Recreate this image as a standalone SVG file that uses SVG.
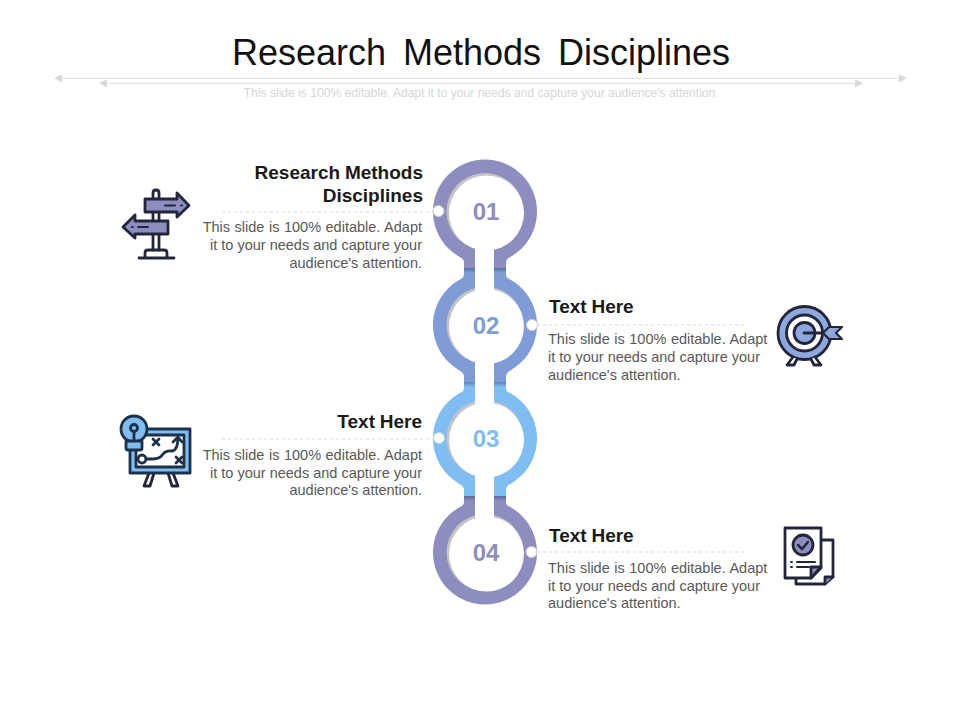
<svg xmlns="http://www.w3.org/2000/svg" width="960" height="720" viewBox="0 0 960 720">
<style>
text{font-family:"Liberation Sans",Arial,sans-serif}
.t{font-size:36px;fill:#111;text-anchor:middle;word-spacing:7px}
.s{font-size:12.100px;fill:#d6d6d6;text-anchor:middle}
.h{font-size:19px;font-weight:700;fill:#1a1a1a;word-spacing:-.5px}
.b{font-size:14.500px;fill:#595959}
.w{word-spacing:.5px}
.e{text-anchor:end}
.n{font-size:24px;font-weight:700;text-anchor:middle}
.d{stroke:#dcdcdc;stroke-width:1;stroke-dasharray:3 3;fill:none}
.g{stroke:#dedede;stroke-width:1;fill:none}
.k{stroke:#23263a;stroke-width:2.800;stroke-linejoin:round;stroke-linecap:round}
.dot{fill:#fff;stroke:#cfcfcf;stroke-width:1}
.face{fill:#fff}
.rim{fill:#c4c4c4}
.slot{fill:#fff}
</style>
<defs>
<marker id="tri" markerWidth="8" markerHeight="8" refX="0" refY="4" orient="auto-start-reverse" markerUnits="userSpaceOnUse"><path d="M0 0L8 4L0 8z" fill="#d9d9d9"/></marker>
<linearGradient id="b2" x1="0" y1="0" x2="0" y2="1"><stop offset="0" stop-color="#58719f"/><stop offset="1" stop-color="#7f9cd6"/></linearGradient>
<linearGradient id="b3" x1="0" y1="0" x2="0" y2="1"><stop offset="0" stop-color="#5a86b8"/><stop offset="1" stop-color="#7fbdf2"/></linearGradient>
<linearGradient id="b4" x1="0" y1="0" x2="0" y2="1"><stop offset="0" stop-color="#5f6a96"/><stop offset="1" stop-color="#8e8dbf"/></linearGradient>
</defs>
<g id="header">
<text class="t" x="481" y="65">Research Methods Disciplines</text>
<path class="g" d="M62 78.300H899" marker-start="url(#tri)" marker-end="url(#tri)"/>
<path class="g" d="M107 83.300H855" marker-start="url(#tri)" marker-end="url(#tri)"/>
<text class="s" x="479.500" y="97">This slide is 100% editable. Adapt it to your needs and capture your audience's attention</text>
</g>
<g id="connectors">
<path class="d" d="M222 212H433"/><path class="d" d="M537 325H745"/><path class="d" d="M222 439H433"/><path class="d" d="M537 552H746"/>
</g>
<g id="node-01">
<circle cx="485" cy="211.500" r="52" fill="#8e8dbf"/>
<path d="M457 255Q464 258 464 263V268H506V263Q506 258 513 255Z" fill="#8e8dbf"/>
<circle cx="485" cy="211.500" r="38.500" class="rim"/>
<circle cx="486.500" cy="213" r="37.500" class="face"/>
<circle cx="438.500" cy="211" r="5.500" class="dot"/>
<text class="n" x="486" y="220" fill="#8e8dbf">01</text>
<text class="h e" x="423" y="179">Research Methods</text>
<text class="h e" x="423" y="202">Disciplines</text>
<text class="b e w" x="422" y="232">This slide is 100% editable. Adapt</text>
<text class="b e" x="422" y="250">it to your needs and capture your</text>
<text class="b e" x="422" y="268">audience's attention.</text>
</g>
<g id="node-02">
<circle cx="485" cy="325" r="52" fill="#7f9cd6"/>
<path d="M457 282Q464 279 464 274V268H506V274Q506 279 513 282Z" fill="#7f9cd6"/>
<rect x="464" y="268" width="42" height="5" fill="url(#b2)"/>
<path d="M457 369Q464 372 464 377V382H506V377Q506 372 513 369Z" fill="#7f9cd6"/>
<circle cx="485" cy="325" r="38.500" class="rim"/>
<circle cx="486.500" cy="326.500" r="37.500" class="face"/>
<rect x="475" y="240" width="19" height="60" class="slot"/>
<circle cx="532" cy="325" r="5.500" class="dot"/>
<text class="n" x="486" y="334" fill="#7f9cd6">02</text>
<text class="h" x="549" y="313">Text Here</text>
<text class="b w" x="548" y="344">This slide is 100% editable. Adapt</text>
<text class="b" x="548" y="362">it to your needs and capture your</text>
<text class="b" x="548" y="380">audience's attention.</text>
</g>
<g id="node-03">
<circle cx="485" cy="438.500" r="52" fill="#7fbdf2"/>
<path d="M457 395.500Q464 392.500 464 388V382H506V388Q506 392.500 513 395.500Z" fill="#7fbdf2"/>
<rect x="464" y="382" width="42" height="5" fill="url(#b3)"/>
<path d="M457 482.500Q464 485.500 464 490V496H506V490Q506 485.500 513 482.500Z" fill="#7fbdf2"/>
<circle cx="485" cy="438.500" r="38.500" class="rim"/>
<circle cx="486.500" cy="440" r="37.500" class="face"/>
<rect x="475" y="352" width="19" height="62" class="slot"/>
<circle cx="439" cy="438" r="5.500" class="dot"/>
<text class="n" x="486" y="447" fill="#7fbdf2">03</text>
<text class="h e" x="422" y="428">Text Here</text>
<text class="b e w" x="422" y="460">This slide is 100% editable. Adapt</text>
<text class="b e" x="422" y="478">it to your needs and capture your</text>
<text class="b e" x="422" y="495">audience's attention.</text>
</g>
<g id="node-04">
<circle cx="485" cy="552.500" r="52" fill="#8e8dbf"/>
<path d="M457 509.500Q464 506.500 464 502V496H506V502Q506 506.500 513 509.500Z" fill="#8e8dbf"/>
<rect x="464" y="496" width="42" height="5" fill="url(#b4)"/>
<circle cx="485" cy="552.500" r="38.500" class="rim"/>
<circle cx="486.500" cy="554" r="37.500" class="face"/>
<rect x="475" y="465" width="19" height="63" class="slot"/>
<circle cx="531.500" cy="552" r="5.500" class="dot"/>
<text class="n" x="486" y="561" fill="#8e8dbf">04</text>
<text class="h" x="549" y="542">Text Here</text>
<text class="b w" x="548" y="573">This slide is 100% editable. Adapt</text>
<text class="b" x="548" y="591">it to your needs and capture your</text>
<text class="b" x="548" y="608">audience's attention.</text>
</g>
<g id="icon-signpost" class="k" fill="none">
<path d="M153 199V193Q153 190 156 190Q159 190 159 193V199M153 212V221M159 212V221M153 234V250M159 234V250"/>
<path d="M145 199H177V193L189 205.500L177 217V212H145Z" fill="#8e8dbf"/>
<path d="M168 221H135V215L123 227L135 238V234H168Z" fill="#8e8dbf"/>
<path d="M139 258H174M145 258V253Q145 250 148 250H164Q167 250 167 253V258"/>
<path d="M165 205.500H175M181 205.500H182M138 227H148M132 227H133" stroke-width="2"/>
</g>
<g id="icon-target" class="k" fill="none">
<circle cx="804.500" cy="333" r="26.500" fill="#8ea7dc"/>
<circle cx="804.500" cy="333" r="18" fill="#fff"/>
<circle cx="804.500" cy="333" r="10.500" fill="#8ea7dc"/>
<path d="M804 333H826"/>
<path d="M823 333L829 327H842L836 333L842 339H829Z" fill="#8ea7dc" stroke-width="2.200"/>
<path d="M793 357L787 365H794L797 359M815 357L821 365H814L811 359" fill="#fff"/>
</g>
<g id="icon-board" class="k" fill="none">
<path d="M149 473L144 486H150L154 473M168 473L172 486H178L173 473"/>
<rect x="130" y="429" width="60" height="44" fill="#7fbdf2" style="stroke:#1d3148"/>
<rect x="136" y="435" width="48" height="32" fill="#fff" style="stroke:#1d3148"/>
<circle cx="134" cy="429" r="13" fill="#7fbdf2" style="stroke:#1d3148"/>
<path d="M126 441H142V448Q142 450 140 450H128Q126 450 126 448Z" fill="#7fbdf2" style="stroke:#1d3148"/>
<circle cx="134" cy="428" r="3.500" style="stroke:#1d3148"/>
<path d="M134 432V441" style="stroke:#1d3148"/>
<path d="M153 439L159 445M159 439L153 445M176 457L182 463M182 457L176 463" style="stroke:#1d3148"/>
<circle cx="142" cy="459" r="4" style="stroke:#1d3148"/>
<path d="M146 459H153Q160 459 163 454Q166 450 172 451Q178 450 178 437M173 442L178 437L182 442" style="stroke:#1d3148"/>
</g>
<g id="icon-doc" class="k" fill="none">
<path d="M796 540H833V577L825 584H796Z" fill="#fff"/>
<path d="M825 584V577H833" fill="#8e8dbf"/>
<path d="M785 528H821V568L811 578H785Z" fill="#fff"/>
<path d="M811 578V567H821Z" fill="#8e8dbf"/>
<circle cx="803" cy="545" r="10" fill="#8e8dbf"/>
<path d="M798 545L802 549L808 542" stroke-width="2.500"/>
<path d="M797 562H815M797 567H809M791 562H792M791 567H792" stroke-width="2"/>
</g>
</svg>
